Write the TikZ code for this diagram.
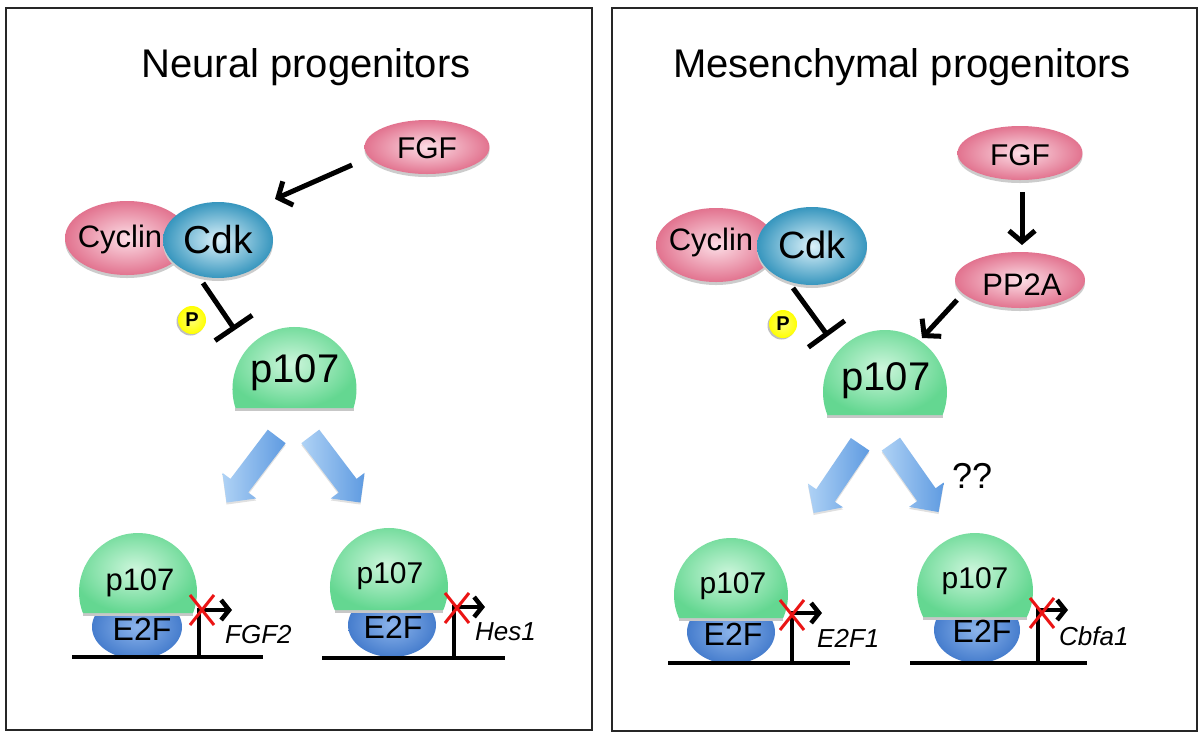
\documentclass[tikz,border=0pt]{standalone}
\usepackage{fontspec}
\setmainfont{Liberation Sans}
\usetikzlibrary{shapes.geometric,shapes.arrows,arrows.meta,calc,shadows}

\definecolor{pinkD}{RGB}{226,115,143}
\definecolor{pinkL}{RGB}{252,222,230}
\definecolor{cdkD}{RGB}{55,150,190}
\definecolor{cdkL}{RGB}{220,242,250}
\definecolor{greenD}{RGB}{100,215,145}
\definecolor{greenL}{RGB}{205,246,220}
\definecolor{e2fD}{RGB}{70,125,205}
\definecolor{e2fL}{RGB}{140,180,235}
\definecolor{arrD}{RGB}{95,155,225}
\definecolor{arrL}{RGB}{175,210,245}
\definecolor{xred}{RGB}{235,20,20}

\newcommand\fs[1]{\fontsize{#1}{#1}\selectfont}
\newcommand\domeshape[4]{%
  \pgfmathsetmacro\dd{#4-#3}%
  \pgfmathsetmacro\aa{asin(\dd/#3)}%
  \pgfmathsetmacro\hw{#3*cos(\aa)}%
  \fill[black!22] (#1-\hw,#2+#4) rectangle (#1+\hw,#2+#4+3);
  \shade[inner color=greenL, outer color=greenD] (#1-\hw,#2+#4) arc[start angle=180-\aa, end angle=360+\aa, radius=#3] -- cycle;
}

\tikzset{
  shd/.style={general shadow={fill=black!20, shadow yshift=-3pt}},
  pinkell/.style={ellipse, inner sep=0, shd, inner color=pinkL, outer color=pinkD},
  cdkell/.style={ellipse, inner sep=0, shd, inner color=cdkL, outer color=cdkD},
  e2fell/.style={ellipse, inner sep=0, inner color=e2fL, outer color=e2fD},
  txt/.style={inner sep=0, anchor=base, text=black},
  gene/.style={inner sep=0, anchor=base west, text=black},
  act/.style={line width=5pt, -{Straight Barb[length=11pt,width=26pt,line width=5pt]}},
  inh/.style={line width=5pt, -{Bar[width=45pt,line width=5pt]}},
  prom/.style={line width=4.5pt, -{Straight Barb[length=8pt,width=20pt,line width=4.5pt]}},
  dna/.style={line width=4.5pt},
  xmark/.style={line width=3pt, xred},
  ball/.style={circle, inner sep=0, minimum size=28, general shadow={fill=black!25, shadow xshift=-1.5pt, shadow yshift=-1.5pt}, inner color=yellow!55, outer color=yellow},
  blk/.style={single arrow, inner xsep=0, inner ysep=11pt, minimum height=83, single arrow head extend=10pt, general shadow={fill=black!12, shadow yshift=-2pt}, left color=arrL, right color=arrD},
  panel/.style={line width=2.5pt, draw=black!85},
}

\begin{document}
\begin{tikzpicture}[x=1pt,y=-1pt]
\useasboundingbox (0,0) rectangle (1200,740);
\fill[white] (0,0) rectangle (1200,740);

% panels
\draw[panel] (6,8) rectangle (592,730);
\draw[panel] (612,8) rectangle (1197,731);

% titles
\node[txt] (titleL) at (306,77) {\fs{40}Neural progenitors};
\node[txt] (titleR) at (902,77) {\fs{40}Mesenchymal progenitors};

% ================= LEFT PANEL =================
\node[pinkell, minimum width=125, minimum height=54] (fgfL) at (427,147) {};
\node[txt] (tfgfL) at (427,158) {\fs{30}FGF};
\node[pinkell, minimum width=124, minimum height=74] (cyclinL) at (127,238) {};
\node[txt] (tcyclinL) at (120,247) {\fs{31}Cyclin};
\node[cdkell, minimum width=110, minimum height=76] (cdkL) at (218,240) {};
\node[txt] (tcdkL) at (218,253) {\fs{39}Cdk};

\draw[act] ($(fgfL)+(-75,18)$) -- ($(cdkL)+(57,-41)$);

\coordinate (domeL) at (294.5,389);
\domeshape{294.5}{327}{62}{81}
\node[txt] (p107L) at (295,382) {\fs{40}p107};

\draw[inh] ($(cdkL)+(-15,43)$) -- ($(domeL)+(-59.5,-59)$);
\node[ball] (pL) at (192,320) {\fs{20}\bfseries P};

\node[blk, rotate=232.85] (bA) at (255,465) {};
\node[blk, rotate=-52.85] (bB) at (332,465) {};

% complex FGF2
\node[e2fell, minimum width=90, minimum height=64] (e2fA) at (137,627) {};
\domeshape{138}{533}{59}{80}
\draw[dna] (72,657) -- (263,657);
\draw[prom] (199,657) -- (199,610) -- (232,610);
\draw[xmark] (190,595) -- (214,625) (214,595) -- (190,625);
\node[txt] (pA) at (140,590) {\fs{31}p107};
\node[txt] (eA) at (142,640) {\fs{32}E2F};
\node[gene] (gA) at (225,643) {\fs{26}\itshape FGF2};

% complex Hes1
\node[e2fell, minimum width=88, minimum height=64] (e2fB) at (392,625) {};
\domeshape{389}{528}{59}{82}
\draw[dna] (322,658) -- (505,658);
\draw[prom] (454,658) -- (454,607) -- (485,607);
\draw[xmark] (445,593) -- (469,623) (469,593) -- (445,623);
\node[txt] (pB) at (390,583) {\fs{30}p107};
\node[txt] (eB) at (393,638) {\fs{32}E2F};
\node[gene] (gB) at (475,640) {\fs{26}\itshape Hes1};

% ================= RIGHT PANEL =================
\node[pinkell, minimum width=125, minimum height=54] (fgfR) at (1020,153) {};
\node[txt] (tfgfR) at (1020,165) {\fs{30}FGF};
\node[pinkell, minimum width=130, minimum height=56] (pp2aR) at (1020,280) {};
\node[txt] (tpp2aR) at (1022,295) {\fs{31}PP2A};
\node[pinkell, minimum width=120, minimum height=74] (cyclinR) at (716,245) {};
\node[txt] (tcyclinR) at (711,250) {\fs{31}Cyclin};
\node[cdkell, minimum width=110, minimum height=78] (cdkR) at (812,246) {};
\node[txt] (tcdkR) at (812,258) {\fs{38}Cdk};

\draw[act] ($(fgfR)+(2,39)$) -- ($(pp2aR)+(2,-35)$);

\coordinate (domeR) at (885,392);
\domeshape{885}{330}{62}{85}
\node[txt] (p107R) at (886,390) {\fs{40}p107};

\draw[act] ($(pp2aR)+(-63,20)$) -- ($(domeR)+(37,-54)$);
\draw[inh] ($(cdkR)+(-19,42)$) -- ($(domeR)+(-57,-56)$);
\node[ball] (pR) at (783,324) {\fs{20}\bfseries P};

\node[blk, rotate=235.9] (bC) at (840,474) {};
\node[blk, rotate=-54.9] (bD) at (911.5,473.5) {};
\node[gene] (qq) at (952,488) {\fs{36}??};

% complex E2F1
\node[e2fell, minimum width=88, minimum height=64] (e2fC) at (731,632) {};
\domeshape{731}{538}{57}{80}
\draw[dna] (668,663) -- (850,663);
\draw[prom] (792,663) -- (792,613) -- (822,613);
\draw[xmark] (780,600) -- (804,630) (804,600) -- (780,630);
\node[txt] (pC) at (733,593) {\fs{30}p107};
\node[txt] (eC) at (733,645) {\fs{32}E2F};
\node[gene] (gC) at (817,647) {\fs{26}\itshape E2F1};

% complex Cbfa1
\node[e2fell, minimum width=86, minimum height=66] (e2fD) at (977,630) {};
\domeshape{975}{533}{58}{84}
\draw[dna] (910,663) -- (1087,663);
\draw[prom] (1038,663) -- (1038,610) -- (1068,610);
\draw[xmark] (1030,598) -- (1054,628) (1054,598) -- (1030,628);
\node[txt] (pD) at (975,588) {\fs{30}p107};
\node[txt] (eD) at (982,642) {\fs{32}E2F};
\node[gene] (gD) at (1059,645) {\fs{26}\itshape Cbfa1};
\end{tikzpicture}
\end{document}
